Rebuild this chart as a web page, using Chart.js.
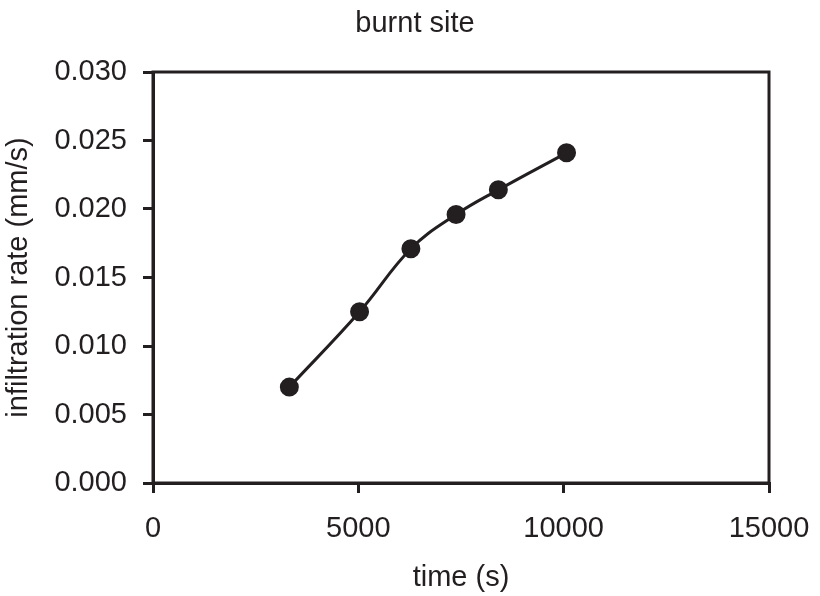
<!DOCTYPE html>
<html>
<head>
<meta charset="utf-8">
<script src="https://cdn.jsdelivr.net/npm/chart.js@4.4.1/dist/chart.umd.min.js"></script>
<style>
  html, body { margin: 0; padding: 0; background: #fff; }
  #wrap { width: 820px; height: 596px; }
</style>
</head>
<body>
<div id="wrap"><canvas id="infChart" width="820" height="596"></canvas></div>
<script>
// values
const timeS = [3320, 5030, 6280, 7380, 8410, 10070];
const infRate = [0.0070, 0.0125, 0.0171, 0.0196, 0.0214, 0.0241];
const xTicks = [0, 5000, 10000, 15000];
const yTicks = [0, 0.005, 0.010, 0.015, 0.020, 0.025, 0.030];

const ink = '#231f20';
const fontFamily = '"Liberation Sans", Arial, sans-serif';
const fontSize = 29;

// frame around the plot + title text
const framePlugin = {
    id: 'frame',
    afterDraw(chart) {
        const { ctx, chartArea } = chart;
        ctx.save();
        ctx.strokeStyle = ink;
        ctx.lineWidth = 3;
        ctx.strokeRect(chartArea.left, chartArea.top, chartArea.right - chartArea.left, chartArea.bottom - chartArea.top);
        ctx.fillStyle = ink;
        ctx.font = fontSize + 'px ' + fontFamily;
        ctx.textAlign = 'center';
        ctx.textBaseline = 'alphabetic';
        ctx.fillText('burnt site', 415, 32);
        ctx.restore();
    }
};

const ctx = document.getElementById('infChart').getContext('2d');
new Chart(ctx, {
    type: 'scatter',
    data: {
        datasets: [{
            label: 'burnt site',
            data: timeS.map((t, i) => ({ x: t, y: infRate[i] })),
            showLine: true,
            borderColor: ink,
            backgroundColor: ink,
            borderWidth: 3,
            pointRadius: 8,
            pointHoverRadius: 8,
            tension: 0.4
        }]
    },
    options: {
        responsive: false,
        animation: false,
        layout: { padding: { top: 72, right: 51, left: 0, bottom: 0 } },
        plugins: {
            legend: { display: false },
            tooltip: { enabled: false },
            title: { display: false }
        },
        scales: {
            x: {
                type: 'linear',
                min: 0,
                max: 15000,
                afterBuildTicks: scale => { scale.ticks = xTicks.map(v => ({ value: v })); },
                afterFit: scale => {
                    scale.height = 113;
                    scale.paddingLeft = 0;
                    scale.paddingRight = 0;
                },
                grid: { drawOnChartArea: false, drawTicks: true, tickLength: 10, color: ink, lineWidth: 3 },
                border: { display: true, color: ink, width: 3 },
                ticks: {
                    color: ink,
                    padding: 19,
                    maxRotation: 0,
                    font: { family: fontFamily, size: fontSize },
                    callback: v => String(v)
                },
                title: {
                    display: true,
                    text: 'time (s)',
                    color: ink,
                    font: { family: fontFamily, size: fontSize },
                    padding: { top: 0, bottom: 1 }
                }
            },
            y: {
                type: 'linear',
                min: 0,
                max: 0.03,
                afterBuildTicks: scale => { scale.ticks = yTicks.map(v => ({ value: v })); },
                afterFit: scale => { scale.width = 153; },
                grid: { drawOnChartArea: false, drawTicks: true, tickLength: 10, color: ink, lineWidth: 3 },
                border: { display: true, color: ink, width: 3 },
                ticks: {
                    color: ink,
                    padding: 16,
                    font: { family: fontFamily, size: fontSize },
                    callback: v => v.toFixed(3)
                },
                title: {
                    display: true,
                    text: 'infiltration rate (mm/s)',
                    color: ink,
                    font: { family: fontFamily, size: fontSize },
                    padding: { top: 2, bottom: 0 }
                }
            }
        }
    },
    plugins: [framePlugin]
});
</script>
</body>
</html>
